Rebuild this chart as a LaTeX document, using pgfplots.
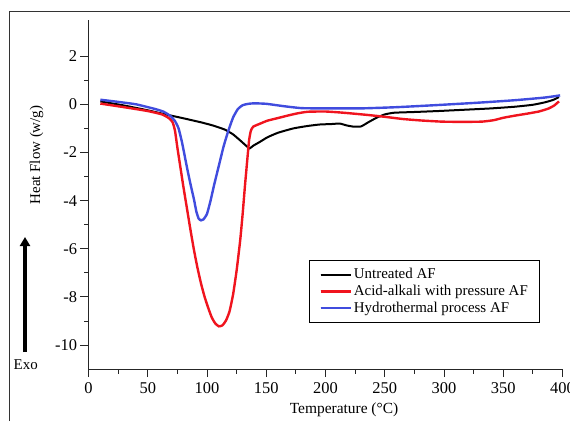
\documentclass[border=0pt]{standalone}
\usepackage{pgfplots}
\pgfplotsset{compat=1.18}
\usepackage{fontspec}
\setmainfont{Liberation Serif}
\usetikzlibrary{arrows.meta}
\definecolor{cblue}{RGB}{64,76,222}
\definecolor{cred}{RGB}{240,20,30}
\begin{document}
\begin{tikzpicture}[x=1bp,y=1bp]
\useasboundingbox (0,0) rectangle (570,421);
\draw[line width=1bp,black!80] (9.7,0) -- (9.7,409.3) -- (570,409.3);
\begin{axis}[
  at={(88.5bp,51.8bp)}, anchor=south west,
  scale only axis, width=474bp, height=349.2bp,
  xmin=0, xmax=400, ymin=-11, ymax=3.5,
  axis x line=bottom, axis y line=left,
  axis line style={-, line width=1.1bp, black!85},
  xtick={0,50,...,400}, minor x tick num=1,
  ytick={-10,-8,...,2}, minor y tick num=1,
  tick align=outside,
  major tick length=8bp, minor tick length=4.5bp,
  tick style={line width=1bp, black!85},
  /pgf/number format/assume math mode=true,
  ticklabel style={font=\fontsize{16.5}{19}\selectfont},
  xticklabel style={yshift=-2bp},
  clip=false,
  legend cell align=left,
  legend style={at={(0.465,0.3127)}, anchor=north west,
    draw=black, line width=1.2bp,
    font=\fontsize{15}{17}\selectfont,
    inner xsep=10bp, inner ysep=6bp, row sep=1bp},
  legend image code/.code={\path (0bp,0bp) -- (30bp,0bp); \draw[#1] (0bp,0bp) -- (23bp,0bp);},
]
\addplot[black, line width=2bp, smooth, tension=0.3] coordinates {
(10,0.12) (30,-0.05) (50,-0.25) (65,-0.42) (80,-0.58) (95,-0.75) (105,-0.88) (115,-1.05) (122,-1.25) (128,-1.5) (133,-1.72) (136,-1.83) (139,-1.72) (145,-1.55) (151,-1.37) (160,-1.18) (173,-1.0) (185,-0.9) (195,-0.84) (205,-0.82) (212,-0.80) (218,-0.88) (224,-0.93) (230,-0.92) (236,-0.75) (243,-0.56) (250,-0.42) (258,-0.35) (275,-0.32) (295,-0.28) (320,-0.22) (340,-0.17) (360,-0.10) (375,-0.02) (385,0.08) (392,0.18) (397,0.30)};
\addlegendentry{Untreated AF}
\addplot[cred, line width=2.4bp, smooth, tension=0.3] coordinates {
(10,0.03) (30,-0.12) (50,-0.28) (62,-0.42) (68,-0.58) (71,-0.75) (73,-1.1) (75,-1.8) (77.5,-2.6) (80,-3.4) (83,-4.3) (86,-5.2) (89,-6.05) (92,-6.8) (95,-7.45) (98,-8.0) (101,-8.45) (104,-8.85) (107,-9.1) (110,-9.22) (113,-9.18) (116,-8.98) (119,-8.6) (122,-7.9) (125,-6.9) (128,-5.65) (130,-4.6) (132,-3.4) (134,-2.3) (135.5,-1.5) (137,-1.1) (139,-0.93) (145,-0.8) (151,-0.68) (160,-0.57) (168,-0.47) (176,-0.38) (185,-0.31) (200,-0.3) (215,-0.35) (235,-0.44) (250,-0.52) (265,-0.61) (280,-0.67) (298,-0.72) (315,-0.73) (332,-0.72) (342,-0.66) (350,-0.56) (360,-0.47) (370,-0.39) (380,-0.3) (388,-0.18) (393,-0.05) (397,0.12)};
\addlegendentry{Acid-alkali with pressure AF}
\addplot[cblue, line width=2.4bp, smooth, tension=0.3] coordinates {
(10,0.19) (25,0.1) (40,0.0) (55,-0.18) (63,-0.3) (69,-0.48) (73,-0.7) (76,-1.0) (79,-1.6) (83,-2.6) (86,-3.3) (89,-3.95) (91,-4.45) (93,-4.75) (95,-4.82) (97,-4.78) (100,-4.55) (103,-4.0) (106,-3.35) (110,-2.55) (114,-1.75) (118,-1.1) (122,-0.55) (126,-0.2) (130,-0.04) (135,0.02) (140,0.04) (150,0.02) (165,-0.08) (180,-0.16) (200,-0.17) (230,-0.17) (260,-0.12) (295,-0.03) (330,0.07) (360,0.17) (385,0.28) (398,0.37)};
\addlegendentry{Hydrothermal process AF}
\end{axis}
\node[rotate=90, font=\fontsize{15}{17}\selectfont] at (36.5,266) {Heat Flow (w/g)};
\node[font=\fontsize{15.5}{18}\selectfont] at (344,11) {Temperature (\textdegree C)};
\draw[line width=3.2bp, -{Triangle[width=10bp,length=9bp]}] (25,69) -- (25,184);
\node[font=\fontsize{15}{17}\selectfont] at (25.7,56) {Exo};
\end{tikzpicture}
\end{document}
